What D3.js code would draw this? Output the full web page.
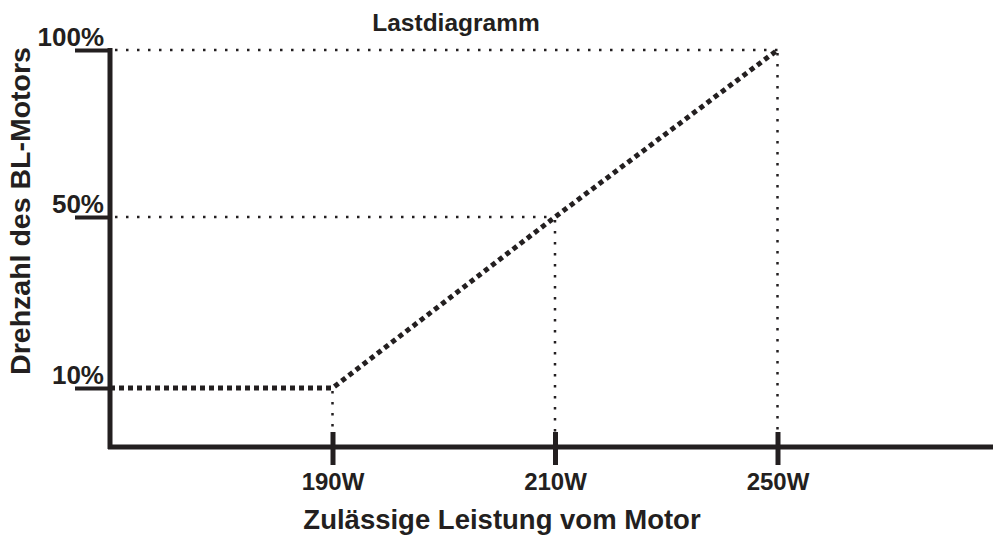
<!DOCTYPE html>
<html>
<head>
<meta charset="utf-8">
<script src="https://cdn.jsdelivr.net/npm/d3@7"></script>
<style>
  body { margin: 0; background: #fff; }
  text { font-family: "Liberation Sans", Arial, sans-serif; font-weight: bold; fill: #231f20; }
</style>
</head>
<body>
<script>
// categories on the x axis (blank ends = origin / end of the axis)
var xCats = ["origin", "190W", "210W", "250W", "end"]
var xTickLabels = ["190W", "210W", "250W"]
// speed of the BL motor in % at each point of the load curve
var loadCats = ["origin", "190W", "210W", "250W"]
var loadSpeed = [10, 10, 50, 100]
var yTicks = [10, 50, 100]

var W = 995, H = 539
var ink = "#231f20"

var svg = d3.select("body").append("svg")
    .attr("width", W).attr("height", H)

// schematic scales, not to scale in the original either
var x = d3.scalePoint().domain(xCats).range([110, 1000])
var y = d3.scaleLinear().domain([0, 10, 50, 100]).range([447, 388, 217, 50])

// Guide lines (thin dots)
var guides = svg.append("g")
    .attr("stroke", ink)
    .attr("stroke-width", 2.5)
    .attr("stroke-dasharray", "2.5,8.5")
    .attr("fill", "none")

// horizontal guides for 50% and 100%
;[["210W", 50], ["250W", 100]].forEach(function (p) {
  guides.append("line")
      .attr("x1", x("origin") + 5).attr("x2", x(p[0]))
      .attr("y1", y(p[1])).attr("y2", y(p[1]))
})
// vertical guides down to the x axis
xTickLabels.forEach(function (c, i) {
  guides.append("line")
      .attr("x1", x(c)).attr("x2", x(c))
      .attr("y1", y(loadSpeed[i + 1]) + 3).attr("y2", y(0) - 14)
})

// Load curve (thick dots)
var line = d3.line()
    .x(function (d, i) { return x(loadCats[i]) })
    .y(function (d) { return y(d) })

svg.append("path")
    .attr("d", line(loadSpeed))
    .attr("fill", "none")
    .attr("stroke", ink)
    .attr("stroke-width", 5)
    .attr("stroke-dasharray", "5,4")

// X axis
var xAxis = svg.append("g")
    .attr("transform", "translate(0," + y(0) + ")")
    .call(d3.axisBottom(x).tickValues(xTickLabels).tickSize(18))

xAxis.select(".domain").remove()
xAxis.selectAll(".tick line")
    .attr("y1", -15)
    .attr("stroke", ink).attr("stroke-width", 5)
xAxis.selectAll(".tick text")
    .attr("y", 43)
    .attr("dy", null)
    .attr("font-size", 24)
    .attr("font-family", null)
    .attr("fill", ink)

xAxis.append("line")
    .attr("x1", x("origin") - 2).attr("x2", W - 2)
    .attr("stroke", ink).attr("stroke-width", 5)

// Y axis
var yAxis = svg.append("g")
    .attr("transform", "translate(" + x("origin") + ",0)")
    .call(d3.axisLeft(y).tickValues(yTicks).tickSize(35)
      .tickFormat(function (d) { return d + "%" }))

yAxis.select(".domain").remove()
yAxis.selectAll(".tick line")
    .attr("stroke", ink).attr("stroke-width", 4)
yAxis.selectAll(".tick text")
    .attr("x", -6)
    .attr("dy", -5)
    .attr("font-size", 26)
    .attr("font-family", null)
    .attr("fill", ink)

yAxis.append("line")
    .attr("y1", y(100) - 2).attr("y2", y(0) + 2)
    .attr("stroke", ink).attr("stroke-width", 5)

// Titles
svg.append("text")
    .attr("x", 456).attr("y", 31)
    .attr("text-anchor", "middle")
    .attr("font-size", 24.5)
    .text("Lastdiagramm")

svg.append("text")
    .attr("x", 502).attr("y", 529)
    .attr("text-anchor", "middle")
    .attr("font-size", 27.5)
    .text("Zulässige Leistung vom Motor")

svg.append("text")
    .attr("transform", "translate(30,211) rotate(-90)")
    .attr("text-anchor", "middle")
    .attr("font-size", 28.5)
    .text("Drehzahl des BL-Motors")
</script>
</body>
</html>
